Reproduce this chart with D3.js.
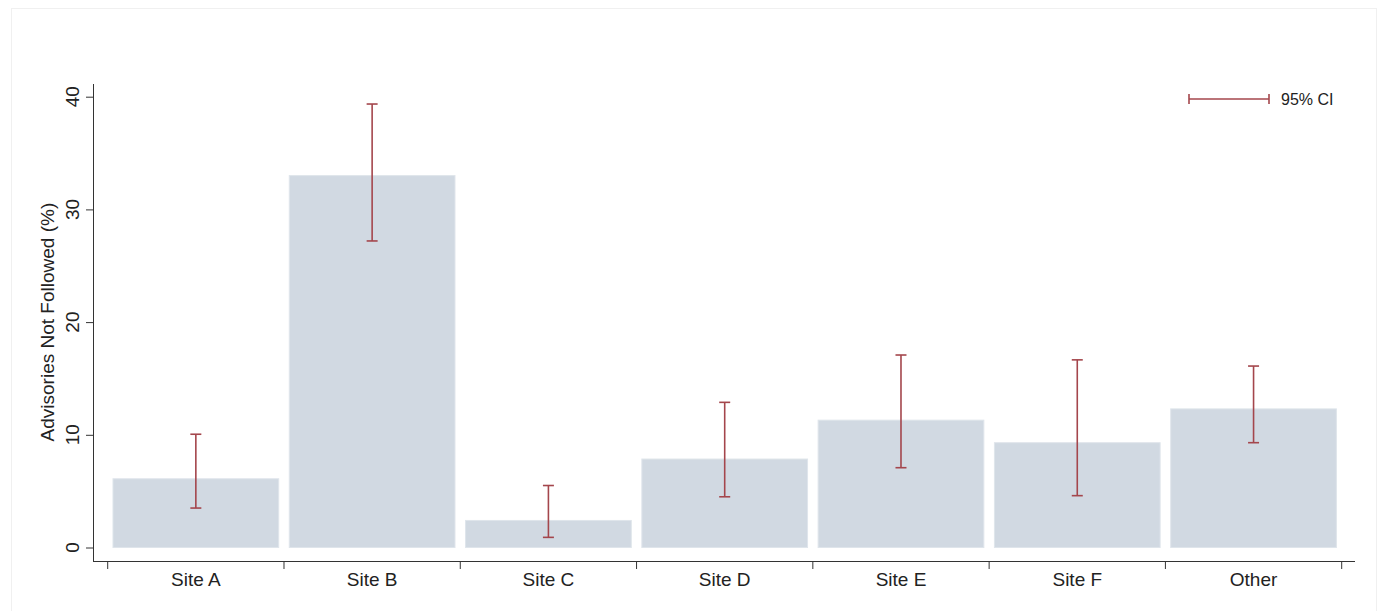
<!DOCTYPE html>
<html>
<head>
<meta charset="utf-8">
<script src="https://cdn.jsdelivr.net/npm/d3@7"></script>
<style>
  body { margin: 0; background: #fff; }
  svg { display: block; font-family: "Liberation Sans", Arial, sans-serif; }
</style>
</head>
<body>
<svg id="chart" width="1383" height="611"></svg>
<script>
// values
const sites = ['Site A', 'Site B', 'Site C', 'Site D', 'Site E', 'Site F', 'Other'];
const pct   = [6.1, 33.0, 2.4, 7.85, 11.3, 9.3, 12.3];
const ciLow = [3.5, 27.2, 0.9, 4.5, 7.08, 4.6, 9.3];
const ciHigh = [10.05, 39.35, 5.5, 12.88, 17.08, 16.65, 16.1];
const yTicks = [0, 10, 20, 30, 40];

const svg = d3.select('#chart');

// faint outer frame
svg.append('rect').attr('x', 11.5).attr('y', 8.5).attr('width', 1365).attr('height', 610)
  .attr('fill', 'none').attr('stroke', '#f0f0f0');

const x = d3.scaleBand().domain(sites).range([107.7, 1341.7]).paddingInner(0.06).paddingOuter(0.03);
const y = d3.scaleLinear().domain([0, 40]).range([547.5, 96.7]);

const data = sites.map((s, i) => ({site: s, v: pct[i], lo: ciLow[i], hi: ciHigh[i]}));

// bars
svg.append('g').selectAll('rect').data(data).join('rect')
  .attr('x', d => x(d.site)).attr('width', x.bandwidth())
  .attr('y', d => y(d.v)).attr('height', d => y(0) - y(d.v))
  .attr('fill', '#d1d9e2').attr('stroke', '#dfe5eb').attr('stroke-width', 1);

// CI whiskers
const ci = svg.append('g').attr('stroke', '#a4464c').attr('stroke-width', 1.6).attr('fill', 'none');
data.forEach(d => {
  const cx = x(d.site) + x.bandwidth() / 2;
  ci.append('line').attr('x1', cx).attr('x2', cx).attr('y1', y(d.lo)).attr('y2', y(d.hi));
  ci.append('line').attr('x1', cx - 5.5).attr('x2', cx + 5.5).attr('y1', y(d.lo)).attr('y2', y(d.lo));
  ci.append('line').attr('x1', cx - 5.5).attr('x2', cx + 5.5).attr('y1', y(d.hi)).attr('y2', y(d.hi));
});

// y axis
const yAxis = svg.append('g').attr('transform', 'translate(93,0)')
  .call(d3.axisLeft(y).tickValues(yTicks).tickSize(7).tickSizeOuter(0));
yAxis.select('.domain').attr('d', 'M0.5,84V561.5');
yAxis.selectAll('line').attr('stroke', '#333');
yAxis.selectAll('.domain').attr('stroke', '#333');
yAxis.selectAll('.tick').attr('transform', null);
yAxis.selectAll('.tick line').attr('y1', d => y(d) + 0.5).attr('y2', d => y(d) + 0.5);
yAxis.selectAll('text')
  .attr('transform', d => `translate(-21,${y(d)}) rotate(-90)`)
  .attr('x', 0).attr('y', 0).attr('dy', '0')
  .attr('text-anchor', 'middle')
  .attr('dominant-baseline', 'central')
  .attr('font-size', 19).attr('fill', '#222');

// x axis: ticks at category boundaries
const xg = svg.append('g');
xg.append('line').attr('x1', 93).attr('x2', 1355).attr('y1', 561.5).attr('y2', 561.5)
  .attr('stroke', '#333');
const step = x.step();
const bounds = d3.range(sites.length + 1).map(i => 107.7 + i * step);
xg.selectAll('.xt').data(bounds).join('line').attr('class', 'xt')
  .attr('x1', d => d).attr('x2', d => d).attr('y1', 561.5).attr('y2', 569)
  .attr('stroke', '#333');
xg.selectAll('text').data(sites).join('text')
  .attr('x', d => x(d) + x.bandwidth() / 2).attr('y', 586)
  .attr('text-anchor', 'middle').attr('font-size', 19).attr('fill', '#222')
  .text(d => d);

// y title
svg.append('text')
  .attr('transform', `translate(54,${(y(0) + y(40)) / 2}) rotate(-90)`)
  .attr('text-anchor', 'middle').attr('font-size', 19).attr('fill', '#222')
  .text('Advisories Not Followed (%)');

// legend
const lg = svg.append('g').attr('stroke', '#a4464c').attr('stroke-width', 1.6);
lg.append('line').attr('x1', 1189).attr('x2', 1269).attr('y1', 99).attr('y2', 99);
lg.append('line').attr('x1', 1189).attr('x2', 1189).attr('y1', 94).attr('y2', 104);
lg.append('line').attr('x1', 1269).attr('x2', 1269).attr('y1', 94).attr('y2', 104);
svg.append('text').attr('x', 1281).attr('y', 105).attr('font-size', 16).attr('fill', '#222')
  .text('95% CI');
</script>
</body>
</html>
